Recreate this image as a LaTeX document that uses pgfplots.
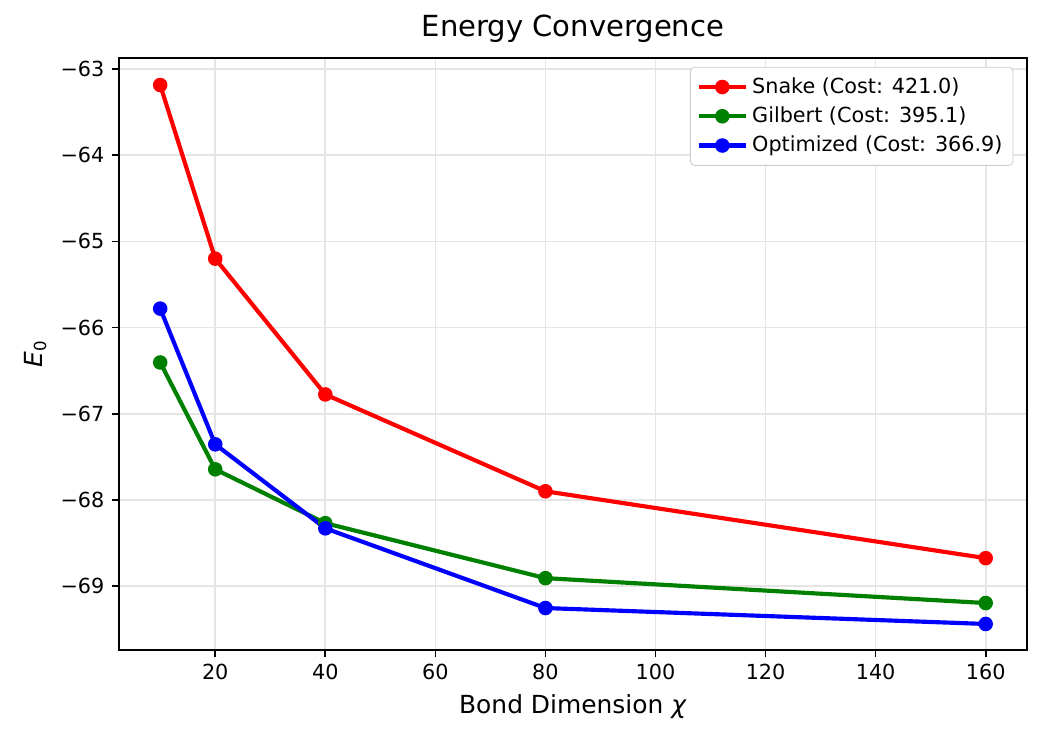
\documentclass[border=0pt]{standalone}
\usepackage{fontspec}
\setmainfont{DejaVu Sans}
\usepackage{pgfplots}
\pgfplotsset{compat=1.18}
\definecolor{mplgreen}{rgb}{0,0.5,0}
\begin{document}
\begin{tikzpicture}
\begin{axis}[
    name=main,
    scale only axis,
    width=437.5pt, height=285.2pt,
    xmin=2.5, xmax=167.5,
    ymin=-69.74, ymax=-62.87,
    xtick={20,40,60,80,100,120,140,160},
    ytick={-69,-68,-67,-66,-65,-64,-63},
    yticklabels={−69,−68,−67,−66,−65,−64,−63},
    /pgf/number format/assume math mode=true,
    tick align=outside,
    xtick pos=left, ytick pos=left,
    major tick length=3.5pt,
    tick style={black, line width=0.8pt},
    axis line style={line width=0.8pt},
    ticklabel style={font=\fontsize{10}{12}\selectfont},
    grid=major,
    grid style={black!10, line width=0.8pt},
    title={Energy Convergence},
    title style={font=\fontsize{14}{16}\selectfont, yshift=-2pt},
    xlabel={Bond Dimension \textit{χ}},
    ylabel={\textit{E}\textsubscript{0}},
    label style={font=\fontsize{12}{14}\selectfont},
    legend style={font=\fontsize{10}{12}\selectfont, draw=black!20, rounded corners=2pt,
        cells={anchor=west}, row sep=1pt, inner sep=3pt, at={(0.985,0.985)}, anchor=north east},
    legend cell align=left,
    legend image code/.code={\draw[mark repeat=2,mark phase=2] plot coordinates {(0cm,0cm)(0.4cm,0cm)(0.8cm,0cm)};},
    every axis plot/.append style={line width=2pt, mark=*, mark size=3pt},
]
\addplot[red, mark options={fill=red, line width=1pt}] coordinates {
(10,-63.185)(20,-65.20)(40,-66.776)(80,-67.90)(160,-68.676)};
\addlegendentry{Snake (Cost: 421.0)}
\addplot[mplgreen, mark options={fill=mplgreen, line width=1pt}] coordinates {
(10,-66.405)(20,-67.645)(40,-68.27)(80,-68.908)(160,-69.197)};
\addlegendentry{Gilbert (Cost: 395.1)}
\addplot[blue, mark options={fill=blue, line width=1pt}] coordinates {
(10,-65.78)(20,-67.355)(40,-68.33)(80,-69.255)(160,-69.44)};
\addlegendentry{Optimized (Cost: 366.9)}
\end{axis}
\path (main.south west) ++(-57.3pt,-48.2pt) coordinate (bl);
\path (main.north east) ++(11.1pt,27.9pt) coordinate (tr);
\path[use as bounding box] (bl) rectangle (tr);
\end{tikzpicture}
\end{document}
